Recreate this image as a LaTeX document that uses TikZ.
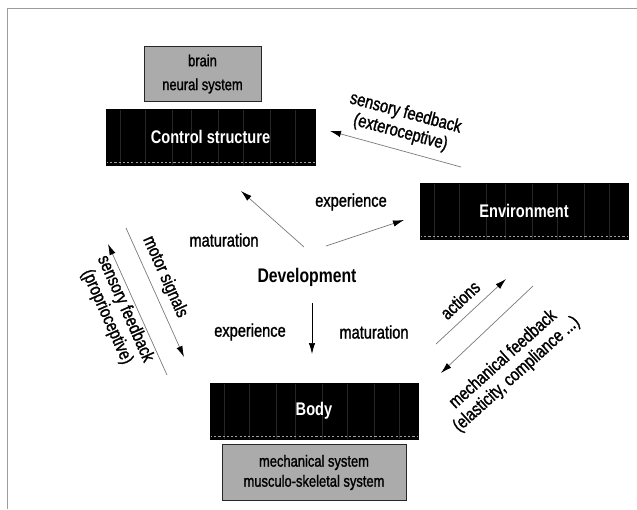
\documentclass[tikz,border=0pt]{standalone}
\usepackage{fontspec}
\setmainfont{Liberation Sans}[FakeStretch=0.8,UprightFeatures={FakeBold=1.3}]
\usetikzlibrary{arrows.meta,positioning}
\definecolor{boxgrey}{HTML}{ABABAB}
\definecolor{lineink}{HTML}{7A7A7A}
\definecolor{frameink}{HTML}{9C9C9C}
\definecolor{stripeink}{HTML}{262626}

\tikzset{
    darkbox/.style={fill=black,draw=black,minimum width=10.4cm,minimum height=2.8cm,
      text=white,font=\fontsize{26}{30}\selectfont\bfseries,
      path picture={
        \foreach \f in {.07,.19,.32,.41,.54,.66,.79,.91}{
          \draw[stripeink,line width=.6pt]
            ([xshift=\f*10.4cm]path picture bounding box.south west) -- ++(0,2.8);
        }
        \draw[gray!75,dashed,line width=1.2pt]
          ([yshift=.12cm]path picture bounding box.south west)
          -- ([yshift=.12cm]path picture bounding box.south east);
      }},
    greybox/.style={fill=boxgrey,draw=black!85,line width=1pt,align=center},
    lbl/.style={font=\fontsize{26}{28.5}\selectfont,align=center},
    flow/.style={lineink,line width=1pt,-{Latex[black,length=.55cm,width=.32cm]}}
}

\begin{document}
\begin{tikzpicture}[x=1cm,y=1cm]
    \useasboundingbox (0,0) rectangle (31.85,25.45);
    \draw[frameink,line width=1.2pt] (0.35,0) -- (0.35,25.05) -- (31.85,25.05);
    \node[darkbox,minimum width=10.45cm] (ctrl) at (10.525,18.6) {Control structure};
    \node[greybox,minimum width=5.85cm,minimum height=2.75cm,
      font=\fontsize{23}{34}\selectfont,above=.35cm of ctrl,xshift=-.4cm] (brain)
      {brain\\neural system};
    \node[darkbox] (env) at (26.2,14.9) {Environment};
    \node[darkbox] (body) at (15.7,4.9) {Body};
    \node[greybox,minimum width=9.2cm,minimum height=2.8cm,
      font=\fontsize{23}{28.5}\selectfont,below=.25cm of body] (mech)
      {mechanical system\\musculo-skeletal system};
    \node[font=\fontsize{28}{30}\selectfont\bfseries] (dev) at (15.35,11.6) {Development};
    \node[lbl] (matup) at (11.2,13.45) {maturation};
    \node[lbl] (expup) at (17.55,15.35) {experience};
    \node[lbl] (explow) at (12.5,8.85) {experience};
    \node[lbl] (matlow) at (18.7,8.85) {maturation};
    \node[lbl,rotate=-15] (extero) at (20.15,19.3) {sensory feedback\\(exteroceptive)};
    \node[lbl,rotate=-66] (motor) at (8.25,11.6) {motor signals};
    \node[lbl,rotate=-66] (proprio) at (5.8,9.8) {sensory feedback\\(proprioceptive)};
    \node[lbl,rotate=43] (act) at (23.0,10.45) {actions};
    \node[lbl,rotate=42] (mechfb) at (25.5,7.1)
      {mechanical feedback\\(elasticity, compliance ...)};
    \coordinate (devnw) at (15.2,13.1);
    \coordinate (ctrlse) at (12.05,15.9);
    \coordinate (devne) at (16.3,13.15);
    \coordinate (envw) at (20.2,14.45);
    \coordinate (devs) at (15.6,10.3);
    \coordinate (bodyn) at (15.6,7.75);
    \coordinate (envnw) at (23.05,17.1);
    \coordinate (ctrle) at (16.5,18.9);
    \coordinate (motortop) at (6.3,14.05);
    \coordinate (motorend) at (9.2,7.6);
    \coordinate (propstart) at (8.35,6.7);
    \coordinate (proptop) at (5.4,13.25);
    \coordinate (actstart) at (21.8,8.25);
    \coordinate (actend) at (25.3,11.5);
    \coordinate (fbstart) at (26.65,11.15);
    \coordinate (fbend) at (22.05,6.8);
    \draw[flow] (devnw) -- (ctrlse);
    \draw[flow] (devne) -- (envw);
    \draw[flow,black] (devs) -- (bodyn);
    \draw[flow] (envnw) -- (ctrle);
    \draw[flow] (motortop) -- (motorend);
    \draw[flow] (propstart) -- (proptop);
    \draw[flow] (actstart) -- (actend);
    \draw[flow] (fbstart) -- (fbend);
\end{tikzpicture}
\end{document}
